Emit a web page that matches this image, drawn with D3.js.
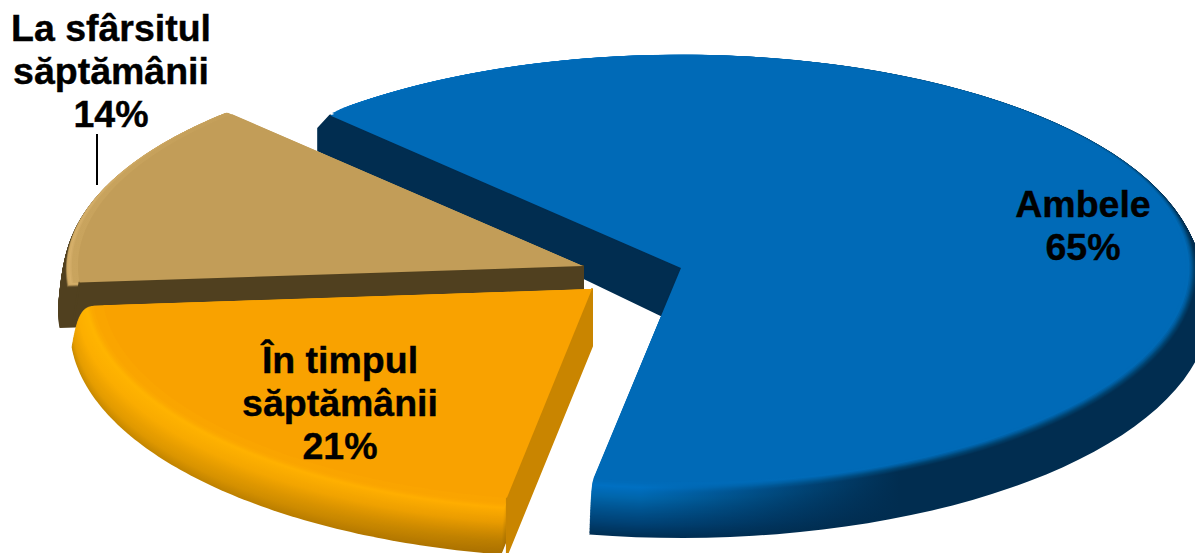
<!DOCTYPE html>
<html><head><meta charset="utf-8">
<script src="https://cdn.jsdelivr.net/npm/d3@7/dist/d3.min.js"></script>
<style>html,body{margin:0;padding:0;background:#fff}svg{display:block}</style>
</head><body><div id="c"></div>
<script>
const categories = ["Ambele", "În timpul săptămânii", "La sfârsitul săptămânii"];
const values = [65, 21, 14];
const labelLines = [["Ambele","65%"],["În timpul","săptămânii","21%"],["La sfârsitul","săptămânii","14%"]];
const drawOrder = [0, 2, 1];

const W=1195,H=553,LEVELS=48;
const rad=d=>d*Math.PI/180;
const pie=d3.pie().sort(null).startAngle(rad(-44)).endAngle(rad(316));
const arcs=pie(values);

// projection + shading of each exploded slice
const geom=[
 {ax:681,ay:268,rx0:505,rx1:529,ryT0:212,ryT1:220,ryB0:214,ryB1:230,off:40,trim:4,kp:.5,
  face:"#006ab7",gx1:640,gx2:900,
  rampL:[[0,"#006ab7"],[.1,"#0070c2"],[.35,"#0065aa"],[.8,"#004174"],[1,"#002f55"]],
  rampR:[[0,"#006ab7"],[.02,"#006ab7"],[.12,"#00426f"],[.2,"#012d50"],[1,"#012d50"]],
  wall:"#012d50",wallA:[-20,47],wallR:[-12,35],wallC:[-12,13]},
 {ax:592,ay:289,rx0:490,rx1:522,ryT0:212,ryT1:212,ryB0:212,ryB1:229,off:40,trim:0,kp:.3,
  face:"#f9a200",gx1:90,gx2:520,
  rampL:[[0,"#f9a200"],[.12,"#ffb400"],[.45,"#fcae00"],[.85,"#e59c00"],[1,"#c98a00"]],
  rampR:[[0,"#f9a200"],[.12,"#ffac00"],[.45,"#e89a00"],[.8,"#b97c00"],[1,"#a86f00"]],
  wall:"#c98500",wallA:[0,57],wallR:[0,57],wallC:null},
 {ax:583,ay:266,rx0:505,rx1:525,ryT0:211,ryT1:218,ryB0:216,ryB1:222,off:45,trim:0,kp:.3,
  face:"#c29d58",gx1:70,gx2:220,
  rampL:[[0,"#c29d58"],[.06,"#d6b06a"],[.14,"#d0aa64"],[.22,"#50401f"],[1,"#50401f"]],
  rampR:[[0,"#c29d58"],[.06,"#c7a25d"],[.14,"#c29d58"],[.22,"#50401f"],[1,"#50401f"]],
  wall:"#50401f",wallA:[0,30],wallR:[-6,38],wallC:null}
];

function level(g,s,t){
  const k=Math.pow(s,g.kp), d=Math.pow(s,1.5);
  const rx=g.rx0+(g.rx1-g.rx0)*k;
  const c=Math.cos(t);
  const ry=c>=0? g.ryT0+(g.ryT1-g.ryT0)*k : g.ryB0+(g.ryB1-g.ryB0)*k;
  return [g.ax+rx*Math.sin(t), g.ay+g.off*d-ry*c];
}
const line=d3.line();
function sector(g,a,s){
  const a0=a.startAngle+(s>0?rad(g.trim)*Math.min(1,s*8):0);
  const n=90, pts=d3.range(n+1).map(i=>level(g,s,a0+(a.endAngle-a0)*i/n));
  pts.unshift([g.ax,g.ay+g.off*Math.pow(s,1.5)]);
  return line(pts)+"Z";
}
function rampScale(r){
  return d3.scaleLinear().domain(r.map(d=>d[0])).range(r.map(d=>d[1])).interpolate(d3.interpolateRgb);
}

const svg=d3.select("#c").append("svg").attr("width",W).attr("height",H);
const defs=svg.append("defs");

drawOrder.forEach(i=>{
  const a=arcs[i], g=geom[i], L=rampScale(g.rampL), R=rampScale(g.rampR);
  const G=svg.append("g").attr("class","slice").attr("data-name",categories[i]);
  const lv=d3.range(LEVELS,0,-1).map(j=>j/LEVELS);
  lv.forEach((s,j)=>{
    const id=`g${i}_${j}`;
    const lg=defs.append("linearGradient").attr("id",id).attr("gradientUnits","userSpaceOnUse")
      .attr("x1",g.gx1).attr("x2",g.gx2).attr("y1",0).attr("y2",0);
    lg.append("stop").attr("offset",0).attr("stop-color",L(s));
    lg.append("stop").attr("offset",1).attr("stop-color",R(s));
    G.append("path").attr("d",sector(g,a,s)).attr("fill",`url(#${id})`);
  });
  // flat wall of the cut face (always at the slice's start angle)
  const rim=level(g,0,a.startAngle);
  const wallPts=[[g.ax,g.ay],rim];
  if(g.wallC) wallPts.push([rim[0]+g.wallC[0],rim[1]+g.wallC[1]]);
  wallPts.push([rim[0]+g.wallR[0],rim[1]+g.wallR[1]],[g.ax+g.wallA[0],g.ay+g.wallA[1]]);
  G.append("path")
    .attr("d",line(wallPts)+"Z")
    .attr("fill",g.wall).attr("stroke",g.wall).attr("stroke-width",2).attr("stroke-linejoin","round");
  G.append("path").attr("d",sector(g,a,0)).attr("fill",g.face);
});

// labels
const labelPos=[{x:1083,y:[217,260]},{x:340,y:[373,416,459]},{x:111,y:[41,84,127]}];
labelLines.forEach((lines,i)=>{
  lines.forEach((t,j)=>{
    svg.append("text").attr("x",labelPos[i].x).attr("y",labelPos[i].y[j])
      .attr("text-anchor","middle").attr("font-family","'Liberation Sans',Arial,sans-serif")
      .attr("font-weight","bold").attr("font-size",37.5).attr("fill","#000")
      .attr("stroke","#000").attr("stroke-width",0.4).text(t);
  });
});
svg.append("line").attr("x1",97).attr("x2",97).attr("y1",134).attr("y2",185).attr("stroke","#000").attr("stroke-width",2);
</script></body></html>
